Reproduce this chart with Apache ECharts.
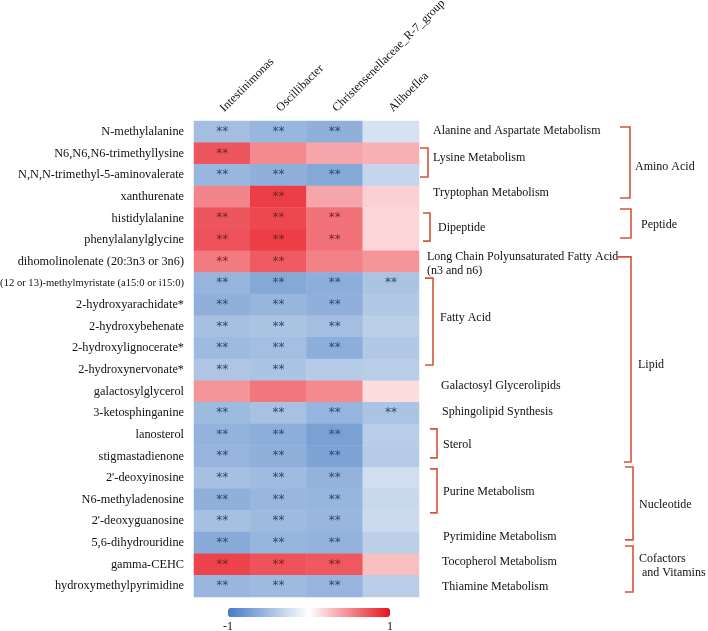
<!DOCTYPE html>
<html>
<head>
<meta charset="utf-8">
<script src="https://cdn.jsdelivr.net/npm/echarts@6/dist/echarts.min.js"></script>
<style>
html,body{margin:0;padding:0;background:#fff;}
#chart{width:708px;height:631px;}
</style>
</head>
<body>
<div id="chart"></div>
<script>
// ---------- data ----------
const metabolites = [
  'N-methylalanine',
  'N6,N6,N6-trimethyllysine',
  'N,N,N-trimethyl-5-aminovalerate',
  'xanthurenate',
  'histidylalanine',
  'phenylalanylglycine',
  'dihomolinolenate (20:3n3 or 3n6)',
  '(12 or 13)-methylmyristate (a15:0 or i15:0)',
  '2-hydroxyarachidate*',
  '2-hydroxybehenate',
  '2-hydroxylignocerate*',
  '2-hydroxynervonate*',
  'galactosylglycerol',
  '3-ketosphinganine',
  'lanosterol',
  'stigmastadienone',
  "2'-deoxyinosine",
  'N6-methyladenosine',
  "2'-deoxyguanosine",
  '5,6-dihydrouridine',
  'gamma-CEHC',
  'hydroxymethylpyrimidine'
];
const genera = ['Intestinimonas', 'Oscillibacter', 'Christensenellaceae_R-7_group', 'Alihoeflea'];

// correlation values, one array per genus (row order as metabolites)
const corrIntestinimonas = [-0.50, 0.72, -0.55, 0.52, 0.72, 0.73, 0.56, -0.57, -0.60, -0.48, -0.53, -0.44, 0.45, -0.53, -0.58, -0.57, -0.48, -0.60, -0.48, -0.64, 0.80, -0.55];
const corrOscillibacter   = [-0.55, 0.50, -0.60, 0.82, 0.78, 0.82, 0.70, -0.66, -0.56, -0.45, -0.50, -0.45, 0.58, -0.47, -0.62, -0.60, -0.52, -0.55, -0.53, -0.56, 0.73, -0.53];
const corrChristensenellaceae = [-0.60, 0.38, -0.66, 0.38, 0.60, 0.60, 0.53, -0.62, -0.60, -0.50, -0.62, -0.40, 0.50, -0.57, -0.72, -0.70, -0.58, -0.56, -0.55, -0.58, 0.71, -0.57];
const corrAlihoeflea      = [-0.22, 0.33, -0.32, 0.20, 0.18, 0.18, 0.45, -0.45, -0.42, -0.37, -0.42, -0.38, 0.14, -0.45, -0.38, -0.40, -0.25, -0.30, -0.28, -0.37, 0.27, -0.38];

// significance marks ("**" = 1)
const sigIntestinimonas = [1,1,1,0,1,1,1,1,1,1,1,1,0,1,1,1,1,1,1,1,1,1];
const sigOscillibacter  = [1,0,1,1,1,1,1,1,1,1,1,1,0,1,1,1,1,1,1,1,1,1];
const sigChristensenellaceae = [1,0,1,0,1,1,0,1,1,1,1,0,0,1,1,1,1,1,1,1,1,1];
const sigAlihoeflea     = [0,0,0,0,0,0,0,1,0,0,0,0,0,1,0,0,0,0,0,0,0,0];

const colorTicks = ['-1', '1'];

// right-hand annotations (row units from top of heatmap)
const pathwayLabels = [
  {text: 'Alanine and Aspartate Metabolism', x: 433, r: 0.46},
  {text: 'Lysine Metabolism', x: 433, r: 1.71},
  {text: 'Tryptophan Metabolism', x: 433, r: 3.33},
  {text: 'Dipeptide', x: 438, r: 4.94},
  {text: 'Long Chain Polyunsaturated Fatty Acid\n(n3 and n6)', x: 427, r: 6.58},
  {text: 'Fatty Acid', x: 440, r: 9.10},
  {text: 'Galactosyl Glycerolipids', x: 441, r: 12.25},
  {text: 'Sphingolipid Synthesis', x: 442, r: 13.45},
  {text: 'Sterol', x: 443, r: 14.97},
  {text: 'Purine Metabolism', x: 443, r: 17.14},
  {text: 'Pyrimidine Metabolism', x: 443, r: 19.22},
  {text: 'Tocopherol Metabolism', x: 442, r: 20.38},
  {text: 'Thiamine Metabolism', x: 442, r: 21.53}
];
const superLabels = [
  {text: 'Amino Acid', x: 635, r: 2.13},
  {text: 'Peptide', x: 641, r: 4.81},
  {text: 'Lipid', x: 638, r: 11.28},
  {text: 'Nucleotide', x: 639, r: 17.74},
  {text: 'Cofactors\n and Vitamins', x: 639, r: 20.56}
];
const brackets = [
  {x0: 420, x1: 428, r0: 1.25, r1: 2.59},
  {x0: 423, x1: 430, r0: 4.25, r1: 5.55},
  {x0: 425, x1: 433, r0: 7.26, r1: 11.28},
  {x0: 430, x1: 437, r0: 14.23, r1: 15.57},
  {x0: 430, x1: 437, r0: 16.08, r1: 18.11},
  {x0: 620, x1: 630, r0: 0.28, r1: 3.56},
  {x0: 620, x1: 631, r0: 4.07, r1: 5.41},
  {x0: 616, x1: 631, r0: 6.28, r1: 15.76, x0b: 624},
  {x0: 625, x1: 633, r0: 15.99, r1: 19.36},
  {x0: 625, x1: 633, r0: 19.64, r1: 21.77}
];

// ---------- build ----------
const allCorr = [corrIntestinimonas, corrOscillibacter, corrChristensenellaceae, corrAlihoeflea];
const allSig = [sigIntestinimonas, sigOscillibacter, sigChristensenellaceae, sigAlihoeflea];
const cells = [];
allCorr.forEach((arr, c) => {
  arr.forEach((v, r) => {
    cells.push({
      value: [c, r, v], sig: allSig[c][r],
      label: {color: v > 0 ? '#7a2424' : '#2c4a6e'}
    });
  });
});

const FONT = '"Liberation Serif", "Times New Roman", serif';
const GRID = {left: 194, top: 121, width: 225, height: 476, outerBoundsMode: 'none', containLabel: false};
const rowH = GRID.height / metabolites.length;
const yOf = r => GRID.top + r * rowH;
const BR = '#d4553c';

const graphics = [];
pathwayLabels.concat(superLabels).forEach(l => {
  graphics.push({
    type: 'text', x: l.x, y: yOf(l.r), silent: true,
    style: {text: l.text, font: '12px ' + FONT, fill: '#111', verticalAlign: 'middle', lineHeight: 14}
  });
});
brackets.forEach(b => {
  const y0 = yOf(b.r0), y1 = yOf(b.r1);
  graphics.push({
    type: 'polyline', silent: true,
    shape: {points: [[b.x0, y0], [b.x1, y0], [b.x1, y1], [b.x0b || b.x0, y1]]},
    style: {stroke: BR, lineWidth: 1.6, fill: null}
  });
});
graphics.push({type: 'text', x: 228, y: 627, silent: true,
  style: {text: colorTicks[0], font: '12px ' + FONT, fill: '#111', align: 'center', verticalAlign: 'middle'}});
graphics.push({type: 'text', x: 390, y: 627, silent: true,
  style: {text: colorTicks[1], font: '12px ' + FONT, fill: '#111', align: 'center', verticalAlign: 'middle'}});

const chart = echarts.init(document.getElementById('chart'), null, {renderer: 'canvas'});
chart.setOption({
  animation: false,
  backgroundColor: '#fff',
  textStyle: {fontFamily: FONT},
  grid: GRID,
  xAxis: {
    type: 'category', position: 'top', data: genera,
    axisLine: {show: false}, axisTick: {show: false}, splitLine: {show: false},
    axisLabel: {rotate: -45, margin: 11, fontSize: 12, color: '#111', fontFamily: FONT, interval: 0}
  },
  yAxis: {
    type: 'category', inverse: true,
    data: metabolites.map(m => m.length > 40 ? {value: m, textStyle: {fontSize: 10.6}} : m),
    axisLine: {show: false}, axisTick: {show: false}, splitLine: {show: false},
    axisLabel: {margin: 10, fontSize: 12.3, color: '#111', fontFamily: FONT, interval: 0}
  },
  visualMap: {
    type: 'continuous', min: -1, max: 1, calculable: false,
    orient: 'horizontal', left: 228, top: 608, itemWidth: 9, itemHeight: 162,
    padding: 0, text: null, showLabel: false,
    inRange: {color: ['#467cc3', '#ffffff', '#e8141e']}
  },
  series: [{
    type: 'heatmap', data: cells,
    itemStyle: {borderWidth: 0},
    label: {
      show: true, fontSize: 12, fontFamily: 'DejaVu Sans',
      formatter: p => p.data.sig ? '**' : ''
    },
    emphasis: {disabled: true}
  }],
  graphic: graphics
});
</script>
</body>
</html>
